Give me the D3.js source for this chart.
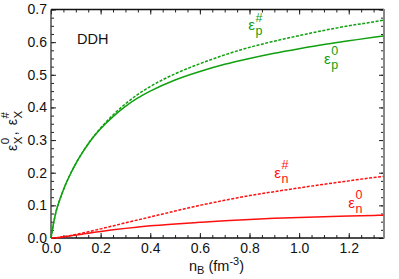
<!DOCTYPE html>
<html>
<head>
<meta charset="utf-8">
<script src="https://cdn.jsdelivr.net/npm/d3@7"></script>
<style>
body{margin:0;background:#fff}
text{font-family:"Liberation Sans",Arial,Helvetica,sans-serif}
</style>
</head>
<body>
<svg id="chart" width="399" height="279"></svg>
<script>
// densité baryonique (fm^-3)
const nB = [0, 0.01, 0.02, 0.04, 0.06, 0.08, 0.1, 0.125, 0.15, 0.175, 0.2, 0.25, 0.3, 0.35, 0.4, 0.5, 0.6, 0.7, 0.8, 0.9, 1.0, 1.1, 1.2, 1.3, 1.34];
const epsP0 = [0, 0.044, 0.080, 0.127, 0.166, 0.199, 0.228, 0.260, 0.288, 0.313, 0.335, 0.372, 0.403, 0.429, 0.450, 0.484, 0.510, 0.532, 0.550, 0.566, 0.580, 0.593, 0.604, 0.615, 0.619];
const epsPh = [0, 0.044, 0.080, 0.127, 0.166, 0.199, 0.228, 0.260, 0.289, 0.314, 0.337, 0.377, 0.411, 0.440, 0.464, 0.503, 0.534, 0.561, 0.584, 0.603, 0.620, 0.636, 0.650, 0.662, 0.667];
const epsN0 = [0, 0.0004, 0.001, 0.0025, 0.0045, 0.0065, 0.0088, 0.0117, 0.0146, 0.0174, 0.0200, 0.0250, 0.0295, 0.0335, 0.0372, 0.0430, 0.0480, 0.0528, 0.0568, 0.0602, 0.0630, 0.0652, 0.0672, 0.0692, 0.0700];
const epsNh = [0, 0.0004, 0.001, 0.0028, 0.0050, 0.0078, 0.0108, 0.0148, 0.0190, 0.0235, 0.0280, 0.0370, 0.0465, 0.0555, 0.0645, 0.0825, 0.1000, 0.1155, 0.1300, 0.1420, 0.1535, 0.1645, 0.1750, 0.1852, 0.1885];

const xTicks = [0.0, 0.2, 0.4, 0.6, 0.8, 1.0, 1.2];
const yTicks = [0.0, 0.1, 0.2, 0.3, 0.4, 0.5, 0.6, 0.7];

const svg = d3.select("#chart");
const m = {left:51, top:9.5, right:384, bottom:238};

const x = d3.scaleLinear().domain([0, 1.342]).range([m.left, m.right]);
const y = d3.scaleLinear().domain([0, 0.7]).range([m.bottom, m.top]);

const xMinor = d3.range(0, 1.34, 0.05);
const yMinor = d3.range(0, 0.7001, 0.025);

// ticks vers l'intérieur sur les 4 côtés
function addAxis(axis, tr){
  const g = svg.append("g").attr("transform", tr).call(axis);
  g.select(".domain").remove();
  g.selectAll("line").attr("stroke", "#222").attr("stroke-width", 1);
  g.selectAll("text").attr("font-size", 14).attr("fill", "#111");
  return g;
}
addAxis(d3.axisBottom(x).tickValues(xMinor).tickSize(-3).tickFormat(""), `translate(0,${m.bottom})`);
addAxis(d3.axisBottom(x).tickValues(xTicks).tickSize(-5).tickPadding(5).tickFormat(d3.format(".1f")), `translate(0,${m.bottom})`);
addAxis(d3.axisTop(x).tickValues(xMinor).tickSize(-3).tickFormat(""), `translate(0,${m.top})`);
addAxis(d3.axisTop(x).tickValues(xTicks).tickSize(-5).tickFormat(""), `translate(0,${m.top})`);
addAxis(d3.axisLeft(y).tickValues(yMinor).tickSize(-3).tickFormat(""), `translate(${m.left},0)`);
addAxis(d3.axisLeft(y).tickValues(yTicks).tickSize(-5).tickPadding(4).tickFormat(d3.format(".1f")), `translate(${m.left},0)`);
addAxis(d3.axisRight(y).tickValues(yMinor).tickSize(-3).tickFormat(""), `translate(${m.right},0)`);
addAxis(d3.axisRight(y).tickValues(yTicks).tickSize(-5).tickFormat(""), `translate(${m.right},0)`);

// cadre
svg.append("line").attr("x1", m.left).attr("x2", m.right).attr("y1", m.bottom).attr("y2", m.bottom).attr("stroke", "#111").attr("stroke-width", 1.3);
svg.append("line").attr("x1", m.left).attr("x2", m.right).attr("y1", m.top).attr("y2", m.top).attr("stroke", "#111").attr("stroke-width", 1.3);
svg.append("line").attr("x1", m.left).attr("x2", m.left).attr("y1", m.top).attr("y2", m.bottom).attr("stroke", "#333").attr("stroke-width", 1.3);
svg.append("line").attr("x1", m.right).attr("x2", m.right).attr("y1", m.top - 0.6).attr("y2", m.bottom + 0.6).attr("stroke", "#888").attr("stroke-width", 2);

// courbes
const line = d3.line().x(d => x(d[0])).y(d => y(d[1])).curve(d3.curveMonotoneX);
const series = [
  {vals: epsP0, color: "#10a010", dash: null},
  {vals: epsPh, color: "#10a010", dash: "3,1.5"},
  {vals: epsN0, color: "#ff1010", dash: null},
  {vals: epsNh, color: "#ff1010", dash: "3,1.5"}
];
for(let s of series){
  svg.append("path")
    .datum(nB.map((n, i) => [n, s.vals[i]]))
    .attr("d", line)
    .attr("fill", "none")
    .attr("stroke", s.color)
    .attr("stroke-width", 1.5)
    .attr("stroke-dasharray", s.dash);
}

// ε avec indice et exposant empilés
function epsLabel(g, px, py, sub, sup, color, big, small){
  const e = g.append("text").attr("x", px).attr("y", py).attr("font-size", big).attr("fill", color).text("ε");
  const w = e.node().getComputedTextLength();
  g.append("text").attr("x", px + w + 0.5).attr("y", py + 5).attr("font-size", small).attr("fill", color).text(sub);
  const t = g.append("text").attr("x", px + w + 0.5).attr("y", py - 8.5).attr("font-size", small).attr("fill", color).text(sup);
  return px + w + 0.5 + Math.max(t.node().getComputedTextLength(), 8);
}

const labels = [
  {n: 0.795, v: 0.636, sub: "p", sup: "#", color: "#10a010"},
  {n: 1.100, v: 0.534, sub: "p", sup: "0", color: "#10a010"},
  {n: 0.900, v: 0.185, sub: "n", sup: "#", color: "#ff1010"},
  {n: 1.198, v: 0.093, sub: "n", sup: "0", color: "#ff1010"}
];
for(let l of labels){
  epsLabel(svg, x(l.n), y(l.v), l.sub, l.sup, l.color, 15, 12.5);
}

svg.append("text").attr("x", 77).attr("y", 44).attr("font-size", 14.5).attr("fill", "#111").text("DDH");

// titre de l'axe y (tourné)
const yl = svg.append("g").attr("transform", "translate(17,151) rotate(-90)");
let cx = epsLabel(yl, 0, 0, "X", "0", "#111", 14, 11.5);
const comma = yl.append("text").attr("x", cx + 1).attr("y", 0).attr("font-size", 14).attr("fill", "#111").text(",");
cx += 1 + comma.node().getComputedTextLength() + 6;
epsLabel(yl, cx, 0, "X", "#", "#111", 14, 11.5);

// titre de l'axe x
const xl = svg.append("text").attr("x", 189).attr("y", 271).attr("font-size", 14.5).attr("fill", "#111");
xl.append("tspan").text("n");
xl.append("tspan").attr("font-size", 11).attr("dy", 3).text("B");
xl.append("tspan").attr("dy", -3).text(" (fm");
xl.append("tspan").attr("font-size", 11).attr("dy", -6).text("-3");
xl.append("tspan").attr("dy", 6).text(")");
</script>
</body>
</html>
